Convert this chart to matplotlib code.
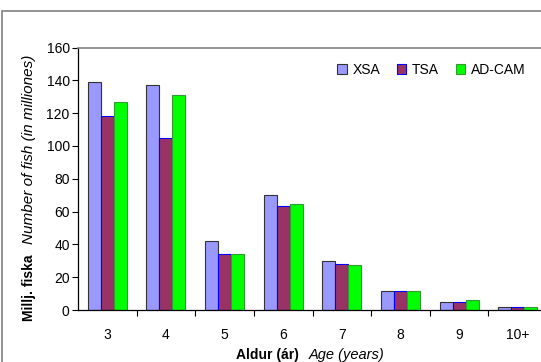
import numpy as np
import matplotlib.pyplot as plt
from matplotlib.patches import Rectangle

ages = ["3", "4", "5", "6", "7", "8", "9", "10+"]
xsa = [139, 137, 42, 70, 30, 11.5, 4.7, 1.6]
tsa = [118, 105, 34, 63.5, 28, 11.6, 5.1, 1.6]
adcam = [127, 131, 34, 64.5, 27.5, 11.5, 5.9, 1.6]

plt.rcParams['font.family'] = ['Liberation Sans', 'DejaVu Sans']

fig = plt.figure(figsize=(5.41, 3.62), dpi=100)
ax = fig.add_axes([78 / 541, 1 - 310 / 362, 469 / 541, 262.5 / 362])

x = np.arange(len(ages))
w = 0.222
ax.bar(x - w, xsa, w, color="#9999ff", edgecolor="#333333", linewidth=0.8, label="XSA")
ax.bar(x, tsa, w, color="#993366", edgecolor="#0000ff", linewidth=0.8, label="TSA")
ax.bar(x + w, adcam, w, color="#00ff00", edgecolor="#339933", linewidth=0.8, label="AD-CAM")

ax.set_xlim(-0.5, len(ages) - 0.5)
ax.set_ylim(0, 160)
ax.set_yticks(range(0, 161, 20))
ax.set_xticks(x)
ax.set_xticklabels(ages)
ax.set_xticks(np.arange(len(ages)) + 0.5, minor=True)
ax.tick_params(axis="x", which="major", length=0, pad=13, labelsize=10)
ax.tick_params(axis="x", which="minor", length=4, width=0.8, direction="out")
ax.tick_params(axis="y", length=4, width=0.8, labelsize=10, pad=2)

for s in ["left", "bottom"]:
    ax.spines[s].set_color("black")
    ax.spines[s].set_linewidth(0.9)
ax.spines["top"].set_color("#808080")
ax.spines["top"].set_linewidth(1.2)
ax.spines["right"].set_visible(False)

fig.legend(loc="center left", bbox_to_anchor=(337 / 541, 1 - 70 / 362), ncol=3,
           frameon=False, fontsize=10, handlelength=0.7, handleheight=0.7,
           handletextpad=0.4, columnspacing=1.2, borderpad=0, borderaxespad=0)

# axis titles: bold Icelandic + italic English
fig.text(299 / 541, 1 - 355 / 362, "Aldur (ár)", fontsize=10, fontweight="bold",
         ha="right", va="center")
fig.text(309 / 541, 1 - 355 / 362, "Age (years)", fontsize=10.5, fontstyle="italic",
         ha="left", va="center")
fig.text(29 / 541, 1 - 321 / 362, "Millj. fiska", fontsize=10, fontweight="bold",
         rotation=90, ha="center", va="bottom")
fig.text(29 / 541, 1 - 244 / 362, "Number of fish (in milliones)", fontsize=11,
         fontstyle="italic", rotation=90, ha="center", va="bottom")

# outer chart border
fig.patches.append(Rectangle((1.5 / 541, -0.1), 1.2, 1 - 10.5 / 362 + 0.1,
                             transform=fig.transFigure, fill=False,
                             edgecolor="#808080", linewidth=1.2))

fig.savefig("out.png", dpi=100)
